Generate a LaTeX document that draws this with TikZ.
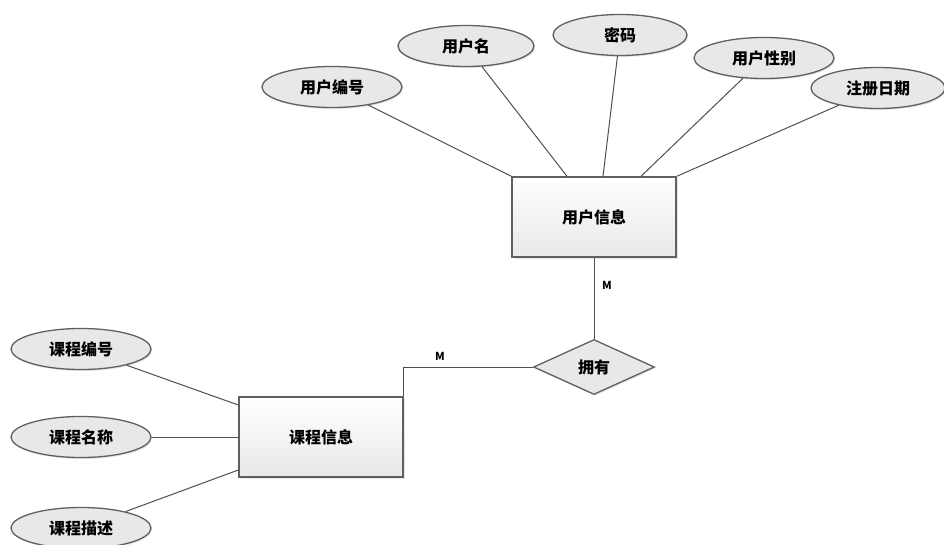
\documentclass[tikz,border=0pt]{standalone}
\usepackage{fontspec}
\setmainfont{Noto Sans CJK SC}
\usetikzlibrary{shapes.geometric,shadows}
\definecolor{edgegray}{HTML}{606060}
\definecolor{linegray}{HTML}{505050}
\definecolor{fillgray}{HTML}{E8E8E8}
\begin{document}
\begin{tikzpicture}[x=1pt,y=-1pt,
  attr/.style={ellipse,draw=edgegray,line width=1.3pt,fill=fillgray,
    minimum width=140pt,minimum height=41pt,inner sep=0pt,
    font=\fontsize{16}{16}\selectfont\bfseries,
    drop shadow={opacity=0.2,shadow xshift=1pt,shadow yshift=-1.5pt}},
  entity/.style={rectangle,draw=edgegray,line width=1.4pt,
    top color=white,bottom color=black!9,
    minimum width=164pt,minimum height=80pt,inner sep=0pt,
    font=\fontsize{16}{16}\selectfont\bfseries,
    drop shadow={opacity=0.2,shadow xshift=1.5pt,shadow yshift=-1.5pt}},
  rel/.style={diamond,draw=edgegray,line width=1.3pt,fill=fillgray,
    minimum width=121pt,minimum height=55pt,inner sep=0pt,aspect=2.2,
    font=\fontsize{16}{16}\selectfont\bfseries,
    drop shadow={opacity=0.2,shadow xshift=1pt,shadow yshift=-1.5pt}},
  conn/.style={draw=linegray,line width=1pt},
  card/.style={font=\bfseries\fontsize{11}{11}\selectfont}
]
\useasboundingbox[fill=white] (0,0) rectangle (944,545);

\node[entity] (r1) at (594,217) {用户信息};
\node[entity] (r2) at (321,437) {课程信息};
\node[rel] (d) at (594,367) {拥有};

\node[attr] (e1) at (332,87) {用户编号};
\node[attr,minimum width=136pt] (e2) at (466,46) {用户名};
\node[attr,minimum width=134pt] (e3) at (620,35) {密码};
\node[attr] (e4) at (764,58) {用户性别};
\node[attr,minimum width=134pt] (e5) at (878,88) {注册日期};

\node[attr] (c1) at (81,349) {课程编号};
\node[attr] (c2) at (81,437) {课程名称};
\node[attr] (c3) at (81,528) {课程描述};

\draw[conn] (e1) -- (r1.north west);
\draw[conn] (e2) -- ([xshift=-27pt]r1.north);
\draw[conn] (e3) -- ([xshift=9pt]r1.north);
\draw[conn] (e4) -- ([xshift=47pt]r1.north);
\draw[conn] (e5) -- (r1.north east);

\draw[conn] (c1) -- ([yshift=32pt]r2.west);
\draw[conn] (c2) -- (r2.west);
\draw[conn] (c3) -- ([yshift=-33pt]r2.west);

\draw[conn] (r1.south) -- (d.north);
\draw[conn] (r2.north east) |- (d.west);

\node[card] (m1) at (607,285) {M};
\node[card] (m2) at (440,356) {M};
\end{tikzpicture}
\end{document}
